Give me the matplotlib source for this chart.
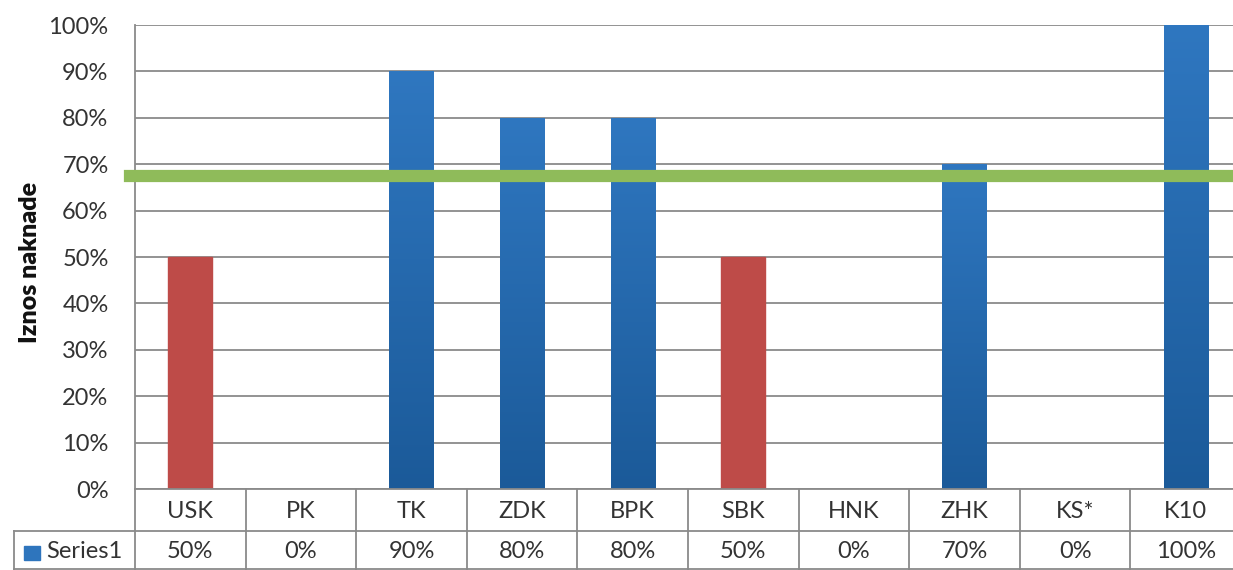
import numpy as np
import matplotlib.pyplot as plt
from matplotlib.colors import LinearSegmentedColormap
from matplotlib.lines import Line2D
from matplotlib.patches import Rectangle

categories = ["USK", "PK", "TK", "ZDK", "BPK", "SBK", "HNK", "ZHK", "KS*", "K10"]
values = [50, 0, 90, 80, 80, 50, 0, 70, 0, 100]
highlight = ["USK", "SBK"]
threshold = 67.5
yticks = [0, 10, 20, 30, 40, 50, 60, 70, 80, 90, 100]
series_name = "Series1"

plt.rcParams["font.family"] = ["Lato", "DejaVu Sans"]

W, H = 1233, 570
x_left = 135
col_w = 110.6
plot_w = col_w * len(categories)  # runs a little past the right edge

fig = plt.figure(figsize=(W / 100, H / 100), dpi=100)
ax = fig.add_axes([x_left / W, (H - 489) / H, plot_w / W, (489 - 25) / H])

grid_c = "#8a8a8a"
text_c = "#333333"
fs = 17
blue_cmap = LinearSegmentedColormap.from_list("bl", ["#1b5a99", "#2f77c0"])

x = np.arange(len(categories))
bars = ax.bar(x, values, width=0.4, color="#2e75bd", zorder=3)
for b, cat in zip(bars, categories):
    if cat in highlight:
        b.set_color("#be4b48")
    elif b.get_height() > 0:
        x0, w, h = b.get_x(), b.get_width(), b.get_height()
        grad = np.linspace(0, 1, 256).reshape(-1, 1)
        im = ax.imshow(grad, cmap=blue_cmap, origin="lower", aspect="auto",
                       extent=[x0, x0 + w, 0, h], zorder=3.5)
        im.set_clip_path(b)

ax.set_xlim(-0.5, len(categories) - 0.5)
ax.set_ylim(0, 100)
ax.set_yticks(yticks)
ax.set_yticklabels([f"{t}%" for t in yticks], fontsize=fs, color=text_c)
ax.tick_params(axis="y", length=0, pad=19)
ax.set_xticks([])
ax.grid(axis="y", color=grid_c, linewidth=1.3, zorder=1)
for s in ["top", "right", "bottom"]:
    ax.spines[s].set_visible(False)
ax.spines["left"].set_color(grid_c)
ax.spines["left"].set_linewidth(1.3)

ax.axhline(threshold, xmin=-5 / plot_w, xmax=1, color="#8fbb5a", linewidth=8.8,
           zorder=4, clip_on=False)

fig.text(30 / W, 1 - 262 / H, "Iznos naknade", rotation=90, fontsize=18,
         fontweight="heavy", ha="center", va="center", color="#111111")

# data table below the plot
def fx(px):
    return px / W

def fy(py):
    return 1 - py / H

right = x_left + plot_w
lines = [
    ((x_left, right), (489, 489)),
    ((14, right), (531, 531)),
    ((14, right), (569, 569)),
    ((14, 14), (531, 570)),
    ((x_left, x_left), (489, 570)),
]
for i in range(1, len(categories) + 1):
    xx = x_left + i * col_w
    lines.append(((xx, xx), (489, 570)))
for (xs, ys) in lines:
    fig.add_artist(Line2D([fx(v) for v in xs], [fy(v) for v in ys],
                          color=grid_c, linewidth=1.3))

for i, (cat, v) in enumerate(zip(categories, values)):
    cx = x_left + (i + 0.5) * col_w
    fig.text(fx(cx), fy(511), cat, ha="center", va="center", fontsize=fs,
             color=text_c)
    fig.text(fx(cx), fy(551), f"{v}%", ha="center", va="center", fontsize=fs,
             color=text_c)

fig.add_artist(Rectangle((fx(24), fy(560)), 16 / W, 14 / H, color="#2e75bd"))
fig.text(fx(46), fy(551), series_name, ha="left", va="center", fontsize=fs,
         color=text_c)

fig.savefig("out.png", dpi=100)
